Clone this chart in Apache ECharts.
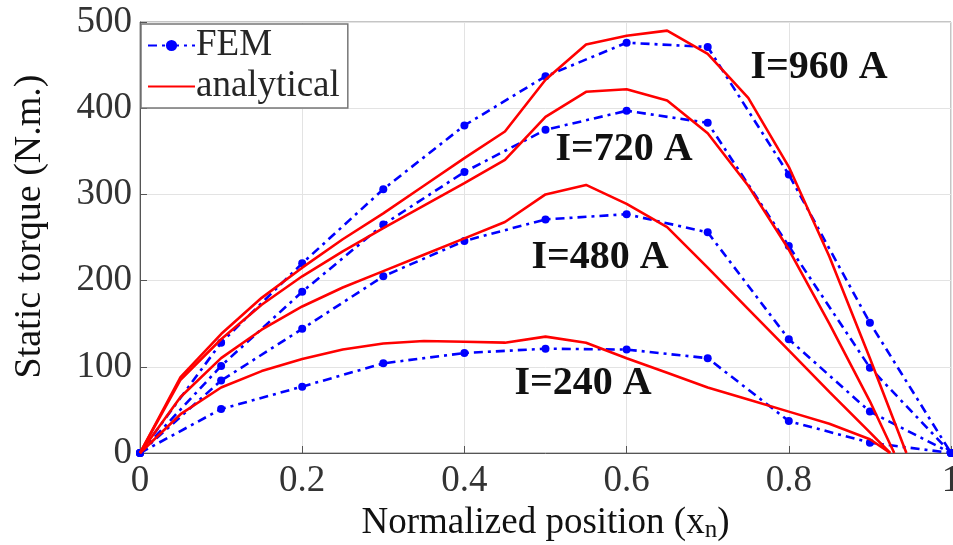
<!DOCTYPE html>
<html>
<head>
<meta charset="utf-8">
<script src="https://cdn.jsdelivr.net/npm/echarts@6/dist/echarts.min.js"></script>
<style>
  html, body { margin: 0; padding: 0; background: #fff; }
  #chart { width: 953px; height: 545px; }
</style>
</head>
<body>
<div id="chart"></div>
<script>
// FEM samples (dash-dot with markers)
const femX = [0, 0.1, 0.2, 0.3, 0.4, 0.5, 0.6, 0.7, 0.8, 0.9, 1.0];
const fem960 = [0, 128, 220, 306, 380, 437, 476, 471, 323, 151, 0];
const fem720 = [0, 101, 187, 265, 326, 375, 397, 383, 240, 99, 0];
const fem480 = [0, 84, 144, 205, 246, 271, 277, 256, 132, 48, 0];
const fem240 = [0, 51, 77, 104, 116, 121, 120, 110, 37, 12, 0];

// analytical curves (solid red), last point is where each one hits zero
const anaX = [0, 0.05, 0.1, 0.15, 0.2, 0.25, 0.3, 0.35, 0.4, 0.45, 0.5, 0.55, 0.6, 0.65, 0.7, 0.75, 0.8, 0.85, 0.9];
const ana960 = [0, 88, 138, 180, 215, 248, 278, 310, 342, 373, 433, 474, 484, 490, 463, 412, 332, 228, 110];
const ana720 = [0, 85, 132, 172, 205, 234, 261, 287, 313, 340, 390, 419, 422, 409, 371, 310, 236, 150, 60];
const ana480 = [0, 65, 110, 143, 170, 192, 211, 230, 249, 268, 300, 311, 289, 262, 215, 167, 119, 71, 24];
const ana240 = [0, 45, 76, 95, 109, 120, 127, 130, 129, 128, 135, 128, 110, 93, 76, 62, 48, 34, 16];
const anaEnd = { 960: 0.945, 720: 0.93, 480: 0.925, 240: 0.925 };

const currentLabels = ["I=960 A", "I=720 A", "I=480 A", "I=240 A"];

const serif = '"Liberation Serif", "DejaVu Serif", serif';

function pairs(xs, ys) {
  return xs.map((x, i) => [x, ys[i]]);
}

function femSeries(ys) {
  return {
    name: "FEM",
    type: "line",
    data: pairs(femX, ys),
    symbol: "circle",
    symbolSize: 8,
    itemStyle: { color: "#0000ff" },
    lineStyle: { color: "#0000ff", width: 2.6, type: [9, 5, 3, 5] },
    z: 3,
  };
}

function anaSeries(ys, end) {
  let d = pairs(anaX, ys);
  d.push([end, 0]);
  return {
    name: "analytical",
    type: "line",
    data: d,
    showSymbol: false,
    symbol: "none",
    itemStyle: { color: "#ff0000" },
    lineStyle: { color: "#ff0000", width: 2.6 },
    z: 4,
  };
}

let chart = echarts.init(document.getElementById("chart"));

let option = {
  animation: false,
  grid: {
    left: 140,
    right: 2,
    top: 22,
    bottom: 92,
    outerBoundsMode: "none",
    containLabel: false,
    show: true,
    borderColor: "#8a8a8a",
    borderWidth: 1,
  },
  legend: {
    data: ["FEM", { name: "analytical", itemStyle: { opacity: 0 } }],
    orient: "vertical",
    left: 141,
    top: 24,
    padding: [2, 8, 2, 6],
    itemGap: 2,
    itemWidth: 47,
    itemHeight: 14,
    backgroundColor: "#fff",
    borderColor: "#777",
    borderWidth: 1.5,
    borderRadius: 0,
    textStyle: {
      fontFamily: serif,
      fontSize: 37,
      color: "#262626",
      padding: [0, 0, 0, -4],
      lineHeight: 39,
    },
  },
  xAxis: {
    type: "value",
    min: 0,
    max: 1,
    interval: 0.2,
    name: "{a|Normalized position (x}{s|n}{a|)}",
    nameLocation: "middle",
    nameGap: 48,
    nameTextStyle: {
      rich: {
        a: { fontFamily: serif, fontSize: 37, color: "#111" },
        s: { fontFamily: serif, fontSize: 25, color: "#111", padding: [14, 0, 0, 0] },
      },
    },
    axisLine: { lineStyle: { color: "#555", width: 1 } },
    axisTick: { inside: true, length: 7, lineStyle: { color: "#555" } },
    axisLabel: {
      fontFamily: serif,
      fontSize: 37,
      color: "#333",
      margin: 10,
      formatter: (v) => String(+v.toFixed(1)),
    },
    splitLine: { show: true, lineStyle: { color: "#e3e3e3", width: 1 } },
  },
  yAxis: {
    type: "value",
    min: 0,
    max: 500,
    interval: 100,
    name: "Static torque (N.m.)",
    nameLocation: "middle",
    nameGap: 91,
    nameTextStyle: { fontFamily: serif, fontSize: 38, color: "#111", padding: [0, 0, 0, 22] },
    axisLine: { show: true, lineStyle: { color: "#555", width: 1 } },
    axisTick: { show: true, inside: true, length: 7, lineStyle: { color: "#555" } },
    axisLabel: { fontFamily: serif, fontSize: 37, color: "#333", margin: 8 },
    splitLine: { show: true, lineStyle: { color: "#e3e3e3", width: 1 } },
  },
  graphic: [
    { type: "text", x: 819, y: 68, style: { text: currentLabels[0] } },
    { type: "text", x: 624, y: 150, style: { text: currentLabels[1] } },
    { type: "text", x: 600, y: 258, style: { text: currentLabels[2] } },
    { type: "text", x: 583, y: 384, style: { text: currentLabels[3] } },
  ].map((g) => {
    g.z = 10;
    g.style.font = "bold 40px " + serif;
    g.style.fill = "#111";
    g.style.textAlign = "center";
    g.style.textVerticalAlign = "middle";
    return g;
  }),
  series: [
    femSeries(fem960),
    femSeries(fem720),
    femSeries(fem480),
    femSeries(fem240),
    anaSeries(ana960, anaEnd[960]),
    anaSeries(ana720, anaEnd[720]),
    anaSeries(ana480, anaEnd[480]),
    anaSeries(ana240, anaEnd[240]),
  ],
};

chart.setOption(option);
</script>
</body>
</html>
